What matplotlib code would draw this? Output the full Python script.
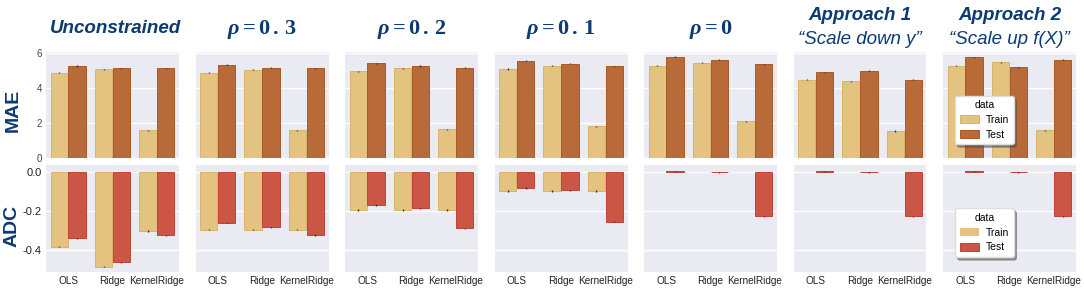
import numpy as np
import matplotlib
matplotlib.use("Agg")
import matplotlib.pyplot as plt

# ---------------- data ----------------
models = ["OLS", "Ridge", "KernelRidge"]
panels = ["Unconstrained", "rho0.3", "rho0.2", "rho0.1", "rho0", "Approach 1", "Approach 2"]

mae_train = [
    [4.86, 5.06, 1.58],
    [4.86, 5.04, 1.58],
    [4.96, 5.13, 1.64],
    [5.08, 5.27, 1.81],
    [5.27, 5.44, 2.10],
    [4.48, 4.37, 1.54],
    [5.27, 5.46, 1.58],
]
mae_test = [
    [5.25, 5.13, 5.12],
    [5.31, 5.15, 5.12],
    [5.41, 5.25, 5.15],
    [5.56, 5.39, 5.23],
    [5.77, 5.60, 5.35],
    [4.88, 4.98, 4.48],
    [5.75, 5.19, 5.60],
]
adc_train = [
    [-0.383, -0.486, -0.303],
    [-0.297, -0.297, -0.297],
    [-0.195, -0.195, -0.195],
    [-0.097, -0.097, -0.097],
    [0.0, 0.0, 0.0],
    [0.0, 0.0, 0.0],
    [0.0, 0.0, 0.0],
]
adc_test = [
    [-0.340, -0.463, -0.325],
    [-0.260, -0.284, -0.323],
    [-0.169, -0.186, -0.289],
    [-0.082, -0.094, -0.256],
    [0.004, -0.001, -0.228],
    [0.004, -0.001, -0.228],
    [0.004, -0.001, -0.228],
]
mae_err = 0.03
adc_err = 0.003

titles = [
    ("Unconstrained", None),
    (r"$\rho = 0\,.\,3$", None),
    (r"$\rho = 0\,.\,2$", None),
    (r"$\rho = 0\,.\,1$", None),
    (r"$\rho = 0$", None),
    ("Approach 1", "\u201cScale down y\u201d"),
    ("Approach 2", "\u201cScale up f(X)\u201d"),
]

# ---------------- style ----------------
plt.rcParams["mathtext.fontset"] = "custom"
plt.rcParams["mathtext.rm"] = "Liberation Serif:bold"
plt.rcParams["mathtext.it"] = "Liberation Serif:italic:bold"
plt.rcParams["mathtext.bf"] = "Liberation Serif:bold"
plt.rcParams["font.family"] = ["Liberation Sans", "DejaVu Sans"]

NAVY = "#0C3A73"
BG = "#EAEAF2"
C_TRAIN = "#E3C37F"
C_TEST_MAE = "#B86A38"
C_TEST_ADC = "#CC5645"
E_TRAIN = "#D8B36A"
E_TEST_MAE = "#A85A28"
E_TEST_ADC = "#C0433A"

W, H = 1084, 289
fig = plt.figure(figsize=(W / 100, H / 100), dpi=100)

left0 = 46
step = (943 - 46) / 6
pw = 133


def add_ax(lpx, top, bottom):
    return fig.add_axes([lpx / W, 1 - bottom / H, pw / W, (bottom - top) / H])


x = np.arange(len(models))
bw = 0.39

for i in range(7):
    lpx = left0 + i * step
    ax1 = add_ax(lpx, 52, 158)
    ax2 = add_ax(lpx, 165, 272)

    for ax, tr, te, ct, et, err, ylim, yt in [
        (ax1, mae_train[i], mae_test[i], C_TEST_MAE, E_TEST_MAE, mae_err, (0, 6.05), [0, 2, 4, 6]),
        (ax2, adc_train[i], adc_test[i], C_TEST_ADC, E_TEST_ADC, adc_err, (-0.513, 0.036), [-0.4, -0.2, 0.0]),
    ]:
        tr = np.asarray(tr)
        te = np.asarray(te)
        ax.set_facecolor(BG)
        for s in ax.spines.values():
            s.set_visible(False)
        ax.set_axisbelow(True)
        ax.grid(axis="y", color="white", linewidth=1.0)
        lw_tr = np.where(tr != 0, 0.7, 0.0)
        lw_te = np.where(te != 0, 0.7, 0.0)
        ax.bar(x - 0.2, tr, width=bw, color=C_TRAIN, edgecolor=E_TRAIN, linewidth=lw_tr, label="Train", zorder=2)
        ax.bar(x + 0.2, te, width=bw, color=ct, edgecolor=et, linewidth=lw_te, label="Test", zorder=2)
        ax.errorbar(x - 0.2, tr, yerr=np.where(tr != 0, err, 0), fmt="none", ecolor="#333333", elinewidth=1.0, zorder=3)
        ax.errorbar(x + 0.2, te, yerr=np.where(te != 0, err, 0), fmt="none", ecolor="#333333", elinewidth=1.0, zorder=3)
        ax.set_xlim(-0.5, 2.5)
        ax.set_ylim(*ylim)
        ax.set_yticks(yt)
        ax.tick_params(length=0, labelsize=7.5, colors="#222222", pad=3)
        if i != 0:
            ax.set_yticklabels([])
        ax.set_xticks(x)

    ax1.set_xticklabels([])
    ax2.set_xticklabels(models, fontsize=7.2)
    ax2.tick_params(axis="x", pad=3)
    ax1.tick_params(axis="y", labelsize=7, colors="#444444")
    ax2.tick_params(axis="y", labelsize=8)

    if i == 0:
        ax2.set_yticklabels(["-0.4", "-0.2", "0.0"])
        ax1.set_ylabel("MAE", fontsize=14, fontweight="bold", color=NAVY)
        ax2.set_ylabel("ADC", fontsize=14, fontweight="bold", color=NAVY)
        ax1.yaxis.set_label_coords(-0.18, 0.45)
        ax2.yaxis.set_label_coords(-0.19, 0.43)

    t1, t2 = titles[i]
    cx = (lpx + pw / 2) / W
    if t2 is None:
        if t1.startswith("$"):
            fig.text(cx, 1 - 34 / H, t1, ha="center", va="baseline", fontsize=16, color=NAVY)
        else:
            fig.text(cx + 3 / W, 1 - 33 / H, t1, ha="center", va="baseline", fontsize=13.5,
                     fontweight="bold", fontstyle="italic", color=NAVY)
    else:
        fig.text(cx, 1 - 20 / H, t1, ha="center", va="baseline", fontsize=13.5,
                 fontweight="bold", fontstyle="italic", color=NAVY)
        fig.text(cx, 1 - 44 / H, t2, ha="center", va="baseline", fontsize=13.5,
                 fontstyle="italic", color=NAVY)

    if i == 6:
        for ax, anchor in [(ax1, (0.05, 0.08)), (ax2, (0.05, 0.09))]:
            leg = ax.legend(title="data", loc="lower left", bbox_to_anchor=anchor, fontsize=7.5,
                            title_fontsize=7.5, shadow=True, framealpha=1.0, facecolor="white",
                            edgecolor="#DDDDDD", handlelength=1.9, handleheight=0.8,
                            handletextpad=0.6, borderpad=0.45, labelspacing=0.45)
            leg.set_zorder(10)

fig.savefig("out.png", dpi=100, facecolor="white")
